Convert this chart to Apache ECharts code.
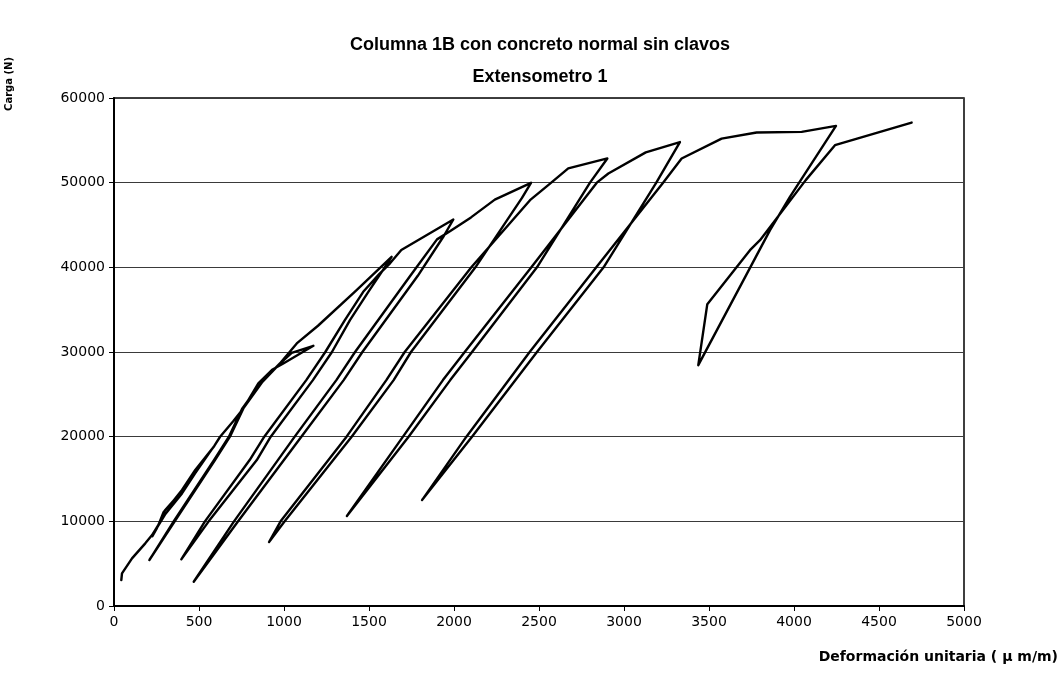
<!DOCTYPE html>
<html>
<head>
<meta charset="utf-8">
<title>Columna 1B con concreto normal sin clavos</title>
<script src="https://cdn.jsdelivr.net/npm/echarts@6/dist/echarts.min.js"></script>
<style>
  html, body { margin: 0; padding: 0; background: #ffffff; }
  #chart { width: 1063px; height: 675px; }
</style>
</head>
<body>
<div id="chart"></div>
<script>
// Load history of the gauge: [strain (µm/m), load (N)], in test order.
const loading1 = [[43,3070],[47,3860],[106,5630],[184,7400],[224,8380],[262,9600],[292,11100],[345,12300],[400,13700],[478,16060],[575,18500]];
const unload0  = [[575,18500],[478,15700],[400,13300],[300,10800],[245,9000],[226,8250]];
const reload1  = [[226,8250],[250,9100],[300,11300],[352,12500],[410,13900],[488,16200],[590,18900],[624,19990],[700,21800],[761,23340],[849,26290],[930,27900],[996,28650],[1173,30730]];
const unload1  = [[1173,30730],[1045,29900],[970,28500],[870,26400],[761,23340],[682,20000],[594,17240],[357,10000],[208,5430]];
const reload2  = [[208,5430],[351,10000],[588,17240],[676,20000],[755,23340],[865,26400],[976,28650],[1075,31010],[1200,33100],[1427,37300],[1633,41240]];
const unload2  = [[1633,41240],[1575,39470],[1496,37110],[1388,33770],[1282,30000],[1170,26680],[922,20000],[840,17240],[557,10000],[396,5510]];
const reload3  = [[396,5510],[535,10000],[798,17240],[884,20000],[1131,26680],[1243,30000],[1358,33770],[1466,37110],[1560,39200],[1625,40500],[1690,42050],[1996,45650]];
const unload3  = [[1996,45650],[1940,43700],[1787,39000],[1461,30000],[1351,26680],[1102,20000],[730,10000],[469,2870]];
const reload4  = [[469,2870],[706,10000],[1063,20000],[1308,26680],[1418,30000],[1743,39000],[1900,43300],[1976,44250],[2100,45900],[2240,48000],[2453,49980]];
const unload4  = [[2453,49980],[2400,48200],[2126,40000],[1747,30000],[1645,26680],[1398,20000],[1004,10000],[912,7560]];
const reload5  = [[912,7560],[980,10000],[1368,20000],[1602,26680],[1710,30000],[2102,40000],[2447,47930],[2565,49880],[2672,51680],[2902,52860]];
const unload5  = [[2902,52860],[2800,50000],[2488,40000],[2106,30000],[1978,26680],[1733,20000],[1370,10630]];
const reload6  = [[1370,10630],[1700,20000],[1935,26680],[2063,30000],[2455,40000],[2840,50000],[2908,51090],[3128,53580],[3329,54800]];
const unload6  = [[3329,54800],[3190,50000],[2880,40000],[2488,30000],[2106,20000],[1812,12510]];
const reload7  = [[1812,12510],[2073,20000],[2445,30000],[2837,40000],[3230,50000],[3339,52850],[3574,55200],[3780,55930],[4045,56000],[4247,56700]];
const unload7  = [[4247,56700],[3976,48330],[3859,44390],[3724,39280],[3437,28450]];
const reload8  = [[3437,28450],[3490,35650],[3741,42030],[3800,43210],[4069,50300],[4241,54430],[4692,57100]];

// Axis ticks
const strainTicks = [0,500,1000,1500,2000,2500,3000,3500,4000,4500,5000];
const loadTicks   = [0,10000,20000,30000,40000,50000,60000];

// Texts
const titleLines = ['Columna 1B con concreto normal sin clavos', 'Extensometro 1'];
const xTitle = 'Deformación unitaria ( µ m/m)';
const yTitle = 'Carga (N)';

// Join the segments into one continuous trace (shared end points kept once).
const segments = [loading1, unload0, reload1, unload1, reload2, unload2, reload3, unload3,
                  reload4, unload4, reload5, unload5, reload6, unload6, reload7, unload7, reload8];
const trace = [];
segments.forEach(function (seg) {
  seg.forEach(function (p) {
    const last = trace[trace.length - 1];
    if (last && last[0] === p[0] && last[1] === p[1]) return;
    trace.push(p);
  });
});

const chart = echarts.init(document.getElementById('chart'), null, { renderer: 'canvas' });

const tickFont = { fontFamily: '"DejaVu Sans", Verdana, sans-serif', fontSize: 14, color: '#000' };

chart.setOption({
  animation: false,
  backgroundColor: '#ffffff',
  grid: {
    left: 114, top: 98, width: 850, height: 508,
    show: true, borderColor: '#000', borderWidth: 1.5, backgroundColor: 'transparent'
  },
  xAxis: {
    type: 'value',
    min: strainTicks[0],
    max: strainTicks[strainTicks.length - 1],
    interval: strainTicks[1] - strainTicks[0],
    axisLine: { show: true, lineStyle: { color: '#000', width: 2 } },
    axisTick: { show: true, length: 5, inside: false, lineStyle: { color: '#000', width: 1 } },
    axisLabel: Object.assign({ margin: 9, formatter: function (v) { return String(v); } }, tickFont),
    splitLine: { show: false }
  },
  yAxis: {
    type: 'value',
    min: loadTicks[0],
    max: loadTicks[loadTicks.length - 1],
    interval: loadTicks[1] - loadTicks[0],
    axisLine: { show: true, lineStyle: { color: '#000', width: 2 } },
    axisTick: { show: true, length: 5, inside: false, lineStyle: { color: '#000', width: 1 } },
    axisLabel: Object.assign({ margin: 9, formatter: function (v) { return String(v); } }, tickFont),
    splitLine: { show: true, lineStyle: { color: '#3a3a3a', width: 1 } }
  },
  series: [{
    type: 'line',
    data: trace,
    showSymbol: false,
    symbol: 'none',
    smooth: false,
    clip: false,
    lineStyle: { color: '#000', width: 2.4, join: 'round', cap: 'round' }
  }],
  graphic: [
    {
      type: 'text', x: 540, y: 45,
      style: {
        text: titleLines[0], align: 'center', verticalAlign: 'middle',
        font: 'bold 18px "Liberation Sans", Arial, sans-serif', fill: '#000'
      }
    },
    {
      type: 'text', x: 540, y: 77,
      style: {
        text: titleLines[1], align: 'center', verticalAlign: 'middle',
        font: 'bold 18px "Liberation Sans", Arial, sans-serif', fill: '#000'
      }
    },
    {
      type: 'text', x: 1058, y: 657,
      style: {
        text: xTitle, align: 'right', verticalAlign: 'middle',
        font: 'bold 14px "DejaVu Sans", Verdana, sans-serif', fill: '#000'
      }
    },
    {
      type: 'text', x: 9, y: 84, rotation: Math.PI / 2,
      style: {
        text: yTitle, align: 'center', verticalAlign: 'middle',
        font: 'bold 10px "DejaVu Sans", Verdana, sans-serif', fill: '#000'
      }
    }
  ]
});
</script>
</body>
</html>
